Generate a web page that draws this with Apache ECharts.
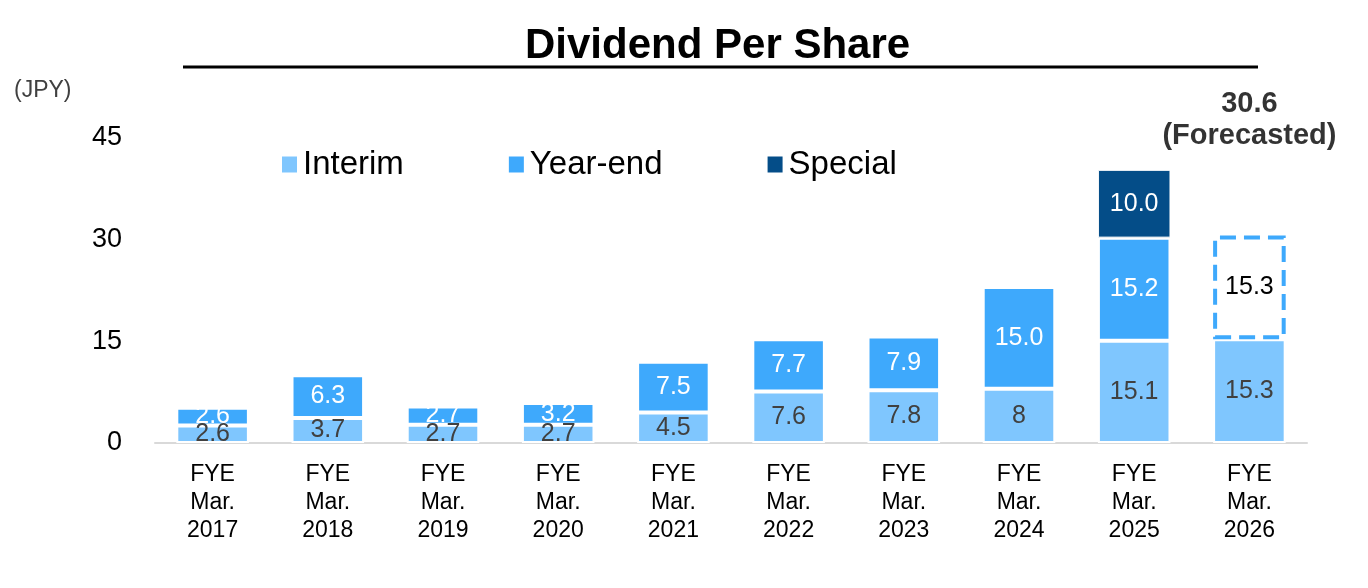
<!DOCTYPE html>
<html>
<head>
<meta charset="utf-8">
<script src="https://cdn.jsdelivr.net/npm/echarts@6/dist/echarts.min.js"></script>
<style>
html,body{margin:0;padding:0;background:#fff;}
#main{width:1368px;height:588px;}
</style>
</head>
<body>
<div id="main"></div>
<script>
const categories = ['FYE\nMar.\n2017','FYE\nMar.\n2018','FYE\nMar.\n2019','FYE\nMar.\n2020','FYE\nMar.\n2021','FYE\nMar.\n2022','FYE\nMar.\n2023','FYE\nMar.\n2024','FYE\nMar.\n2025','FYE\nMar.\n2026'];
const interim = [2.6, 3.7, 2.7, 2.7, 4.5, 7.6, 7.8, 8, 15.1, 15.3];
const yearEnd = [2.6, 6.3, 2.7, 3.2, 7.5, 7.7, 7.9, 15.0, 15.2, 15.3];
const special = [null, null, null, null, null, null, null, null, 10.0, null];
const forecastIndex = 9;
const forecastTotal = 30.6;
const yTicks = [0, 15, 30, 45];

const FONT = 'Arial, "Liberation Sans", sans-serif';
const C_INT = '#7fc6fe', C_YE = '#3ea9fc', C_SP = '#044d88';

const chart = echarts.init(document.getElementById('main'));

const yeData = yearEnd.map((v, i) => i === forecastIndex ? {
  value: v,
  itemStyle: {color: '#ffffff', borderColor: C_YE, borderWidth: 4, borderType: [16, 8]},
  label: {color: '#000000'}
} : v);

const totalData = categories.map((c, i) => i === forecastIndex ? forecastTotal : null);

chart.setOption({
  animation: false,
  textStyle: {fontFamily: FONT},
  title: {
    text: 'Dividend Per Share',
    left: 520, top: 20,
    textStyle: {fontSize: 42, fontWeight: 'bold', color: '#000', fontFamily: FONT}
  },
  graphic: [
    {type: 'line', shape: {x1: 183, y1: 67, x2: 1258, y2: 67}, style: {stroke: '#000', lineWidth: 3}},
    {type: 'text', left: 14, top: 79, style: {text: '(JPY)', fontSize: 23, fill: '#404040', fontFamily: FONT}}
  ],
  legend: {
    data: ['Interim', 'Year-end', 'Special'],
    left: 280, top: 148, padding: 0,
    itemWidth: 17, itemHeight: 18, itemGap: 103,
    icon: 'rect',
    textStyle: {fontSize: 33, color: '#000', fontFamily: FONT}
  },
  grid: {left: 155, right: 61, top: 138, bottom: 145},
  xAxis: {
    type: 'category',
    data: categories,
    axisLine: {lineStyle: {color: '#d9d9d9', width: 2}},
    axisTick: {show: false},
    axisLabel: {fontSize: 23, lineHeight: 28, color: '#000', margin: 18, fontFamily: FONT}
  },
  yAxis: {
    type: 'value',
    min: yTicks[0], max: yTicks[yTicks.length - 1], interval: yTicks[1] - yTicks[0],
    splitLine: {show: false},
    axisLine: {show: false},
    axisTick: {show: false},
    axisLabel: {fontSize: 27, color: '#000', margin: 33, fontFamily: FONT}
  },
  series: [
    {
      name: 'Interim', type: 'bar', stack: 'dps', barWidth: '63%',
      data: interim,
      itemStyle: {color: C_INT, borderColor: '#ffffff', borderWidth: 2},
      label: {show: true, position: 'inside', fontSize: 25, color: '#404040', formatter: p => String(p.value)}
    },
    {
      name: 'Year-end', type: 'bar', stack: 'dps',
      data: yeData,
      itemStyle: {color: C_YE, borderColor: '#ffffff', borderWidth: 2},
      label: {show: true, position: 'inside', fontSize: 25, color: '#ffffff', formatter: p => Number(p.value).toFixed(1)}
    },
    {
      name: 'Special', type: 'bar', stack: 'dps',
      data: special,
      itemStyle: {color: C_SP, borderColor: '#ffffff', borderWidth: 1},
      label: {show: true, position: 'inside', fontSize: 25, color: '#ffffff', formatter: p => Number(p.value).toFixed(1)}
    },
    {
      name: 'Total', type: 'scatter', symbolSize: 0,
      data: totalData,
      label: {
        show: true, position: 'top', distance: 84,
        formatter: p => p.value.toFixed(1) + '\n(Forecasted)',
        fontSize: 29, fontWeight: 'bold', lineHeight: 32, color: '#000', align: 'center'
      }
    }
  ]
});
</script>
</body>
</html>
